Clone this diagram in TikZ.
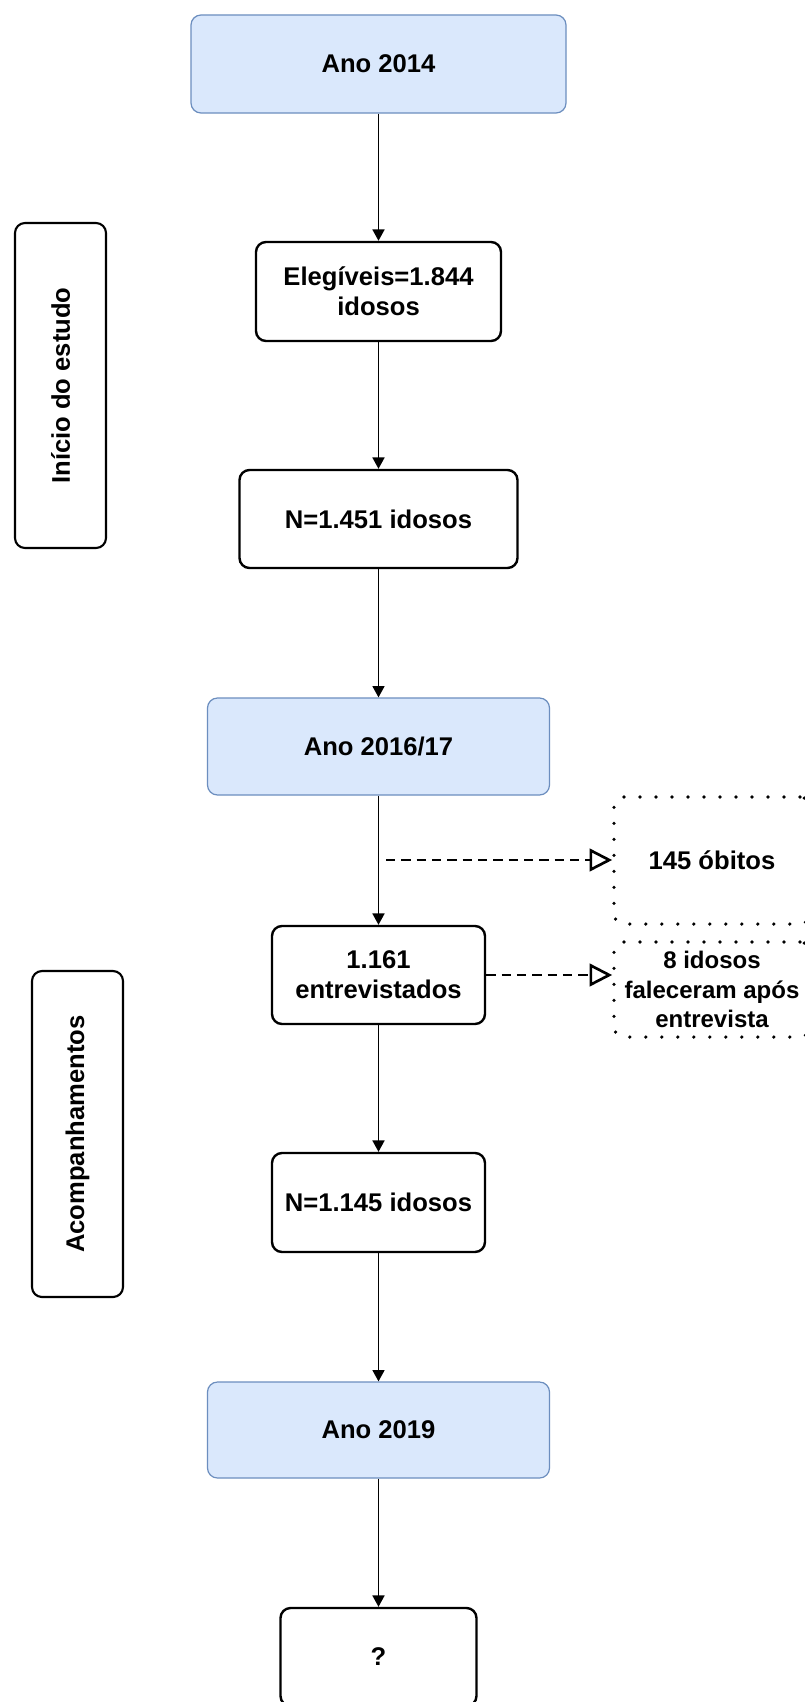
\documentclass[tikz,border=0pt]{standalone}
\usepackage{fontspec}
\setmainfont{Liberation Sans}
\usetikzlibrary{arrows.meta}
\definecolor{bluefill}{HTML}{DAE8FC}
\definecolor{bluedraw}{HTML}{6C8EBF}
\tikzset{
  bluebox/.style={draw=bluedraw, fill=bluefill, line width=0.9pt, rounded corners=7.5pt,
    font=\fontsize{19.2pt}{22.5pt}\selectfont\bfseries, align=center, inner sep=0pt},
  whitebox/.style={draw=black, fill=white, line width=1.8pt, rounded corners=7.5pt,
    font=\fontsize{19.2pt}{22.5pt}\selectfont\bfseries, align=center, inner sep=0pt},
  sidebox/.style={draw=black, fill=white, line width=1.6pt, rounded corners=7.5pt,
    font=\fontsize{19.2pt}{22.5pt}\selectfont\bfseries, align=center, inner sep=0pt, rotate=90},
  dotbox/.style={draw=black, line width=2.7pt, line cap=round, dash pattern=on 0pt off 12pt,
    rounded corners=7.5pt, align=center, inner sep=0pt},
  flow/.style={line width=1.2pt, -{Triangle[width=9pt,length=8.5pt]}},
  dashflow/.style={line width=2pt, dash pattern=on 7pt off 4.5pt,
    -{Triangle[open,width=17pt,length=17pt,line width=2pt]}}
}
\begin{document}
\begin{tikzpicture}[x=0.75pt,y=-0.75pt]
\useasboundingbox[fill=white] (0,0) rectangle (805,1702);

\node[bluebox, minimum width=281.25pt, minimum height=73.5pt] (y14) at (378.5,64) {Ano 2014};
\node[whitebox, minimum width=183.75pt, minimum height=74.25pt] (eleg) at (378.5,291.5) {Elegíveis=1.844\\idosos};
\node[whitebox, minimum width=208.5pt, minimum height=73.5pt] (n1451) at (378.5,519) {N=1.451 idosos};
\node[bluebox, minimum width=256.5pt, minimum height=72.75pt] (y16) at (378.5,746.5) {Ano 2016/17};
\node[whitebox, minimum width=159.75pt, minimum height=73.5pt] (e1161) at (378.5,975) {1.161\\entrevistados};
\node[whitebox, minimum width=159.75pt, minimum height=74.25pt] (n1145) at (378.5,1202.5) {N=1.145 idosos};
\node[bluebox, minimum width=256.5pt, minimum height=72pt] (y19) at (378.5,1430) {Ano 2019};
\node[whitebox, minimum width=147pt, minimum height=73.5pt] (q) at (378.5,1657) {?};

\node[sidebox, minimum width=243.75pt, minimum height=68.25pt] (inicio) at (60.5,385.5) {Início do estudo};
\node[sidebox, minimum width=244.5pt, minimum height=68.25pt] (acomp) at (77.5,1134) {Acompanhamentos};

\node[dotbox, minimum width=147pt, minimum height=95.25pt,
      font=\fontsize{19.2pt}{22.5pt}\selectfont\bfseries] (ob1) at (712,860.5) {145 óbitos};
\node[dotbox, minimum width=147pt, minimum height=71.25pt,
      font=\fontsize{18pt}{22pt}\selectfont\bfseries] (ob2) at (712,989.5) {8 idosos\\faleceram após\\entrevista};

\draw[flow] (y14) -- (eleg);
\draw[flow] (eleg) -- (n1451);
\draw[flow] (n1451) -- (y16);
\draw[flow] (y16) -- (e1161);
\draw[flow] (e1161) -- (n1145);
\draw[flow] (n1145) -- (y19);
\draw[flow] (y19) -- (q);

\coordinate (d1) at (386,860);
\draw[dashflow] (d1) -- (d1 -| ob1.west);
\draw[dashflow] (e1161.east) -- (e1161.east -| ob2.west);
\end{tikzpicture}
\end{document}
